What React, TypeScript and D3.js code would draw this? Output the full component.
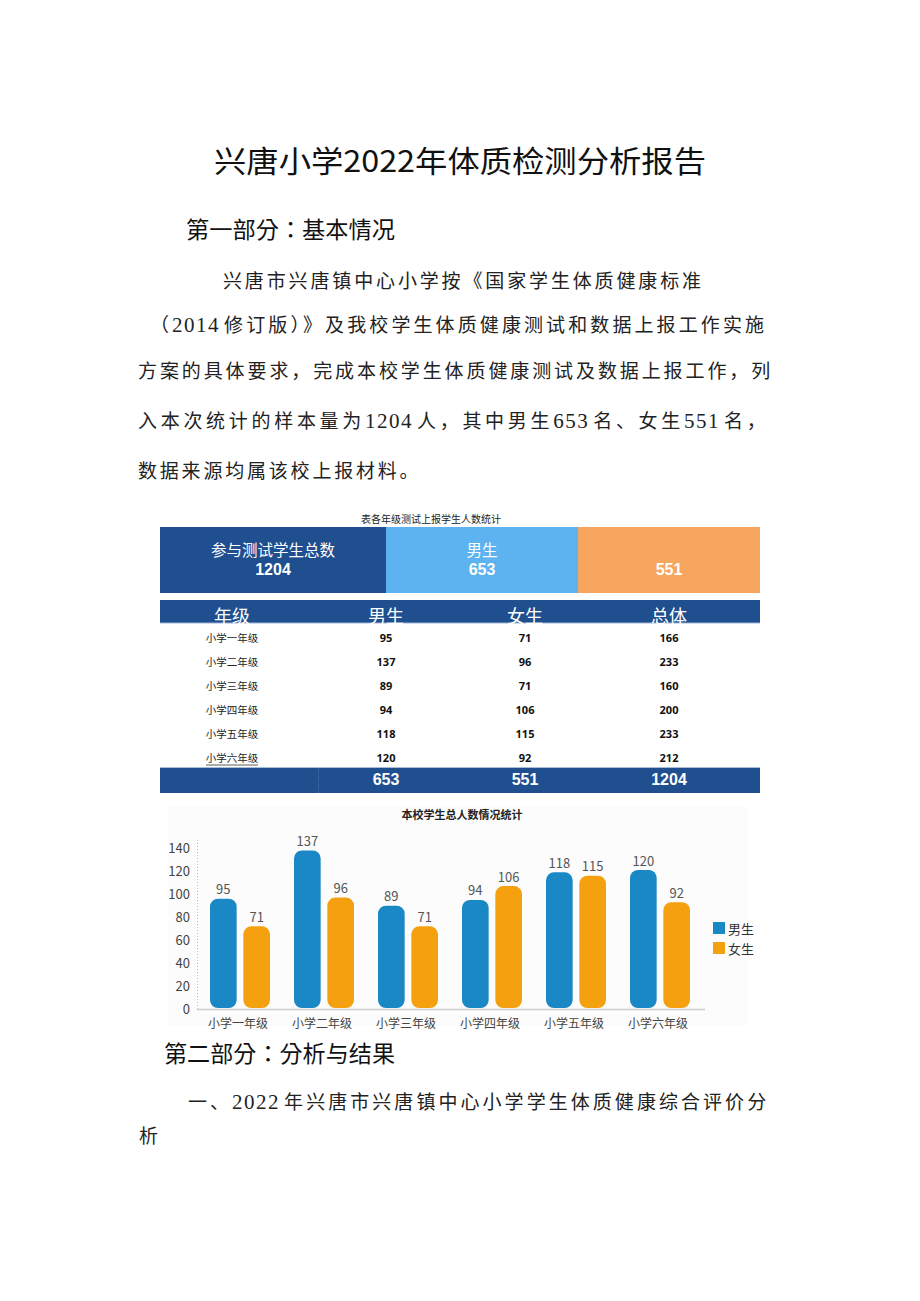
import React from 'react';
import * as d3 from 'd3';

const grades = ['小学一年级', '小学二年级', '小学三年级', '小学四年级', '小学五年级', '小学六年级'];
const boys = [95, 137, 89, 94, 118, 120];
const girls = [71, 96, 71, 106, 115, 92];
const totals = [166, 233, 160, 200, 233, 212];
const summaryLabels = ['参与测试学生总数', '男生', ''];
const summaryValues = [1204, 653, 551];
const tableHeaders = ['年级', '男生', '女生', '总体'];
const footerValues = ['', '653', '551', '1204'];
const yTicks = [0, 20, 40, 60, 80, 100, 120, 140];
const seriesNames = ['男生', '女生'];

const docTitle = '兴唐小学2022年体质检测分析报告';
const heading1 = '第一部分：基本情况';
const heading2 = '第二部分：分析与结果';
const bodyLines = [
  '兴唐市兴唐镇中心小学按《国家学生体质健康标准',
  '（2014修订版）》及我校学生体质健康测试和数据上报工作实施',
  '方案的具体要求，完成本校学生体质健康测试及数据上报工作，列',
  '入本次统计的样本量为1204人，其中男生653名、女生551名，',
  '数据来源均属该校上报材料。',
];
const bodyLines2 = ['一、2022年兴唐市兴唐镇中心小学学生体质健康综合评价分', '析'];
const tableCaption = '表各年级测试上报学生人数统计';
const chartTitle = '本校学生总人数情况统计';

const CJK = "'Noto Sans CJK SC', 'Noto Sans', sans-serif";
const CJK_TC = "'Noto Sans CJK TC', 'Noto Sans CJK SC', sans-serif";
const BODY = "'Liberation Serif', 'Noto Sans CJK SC', serif";

const DARK = '#1f4f8f';
const LIGHT = '#5cb3ef';
const ORANGE = '#f7a660';
const BOY = '#1b88c6';
const GIRL = '#f5a00e';

function BodyLine({ text, x, y, ls }: { text: string; x: number; y: number; ls: number }) {
  const parts = text.split(/(\d+)/).filter((p) => p.length > 0);
  let prevDigit = false;
  return (
    <text x={x} y={y} fontFamily={BODY} fontSize={19} dominantBaseline="central" fill="#222">
      {parts.map((p, i) => {
        const isDigit = /^\d+$/.test(p);
        const dx = !isDigit && prevDigit ? 4 : 0;
        prevDigit = isDigit;
        return (
          <tspan
            key={i}
            dx={dx}
            fontSize={isDigit ? 21 : 19}
            style={{ letterSpacing: `${isDigit ? 1.5 : ls}px` }}
          >
            {p}
          </tspan>
        );
      })}
    </text>
  );
}

export default function App() {
  const bodyLayout = [
    { x: 223, y: 281, ls: 2.86 },
    { x: 150, y: 325, ls: 3.1 },
    { x: 138, y: 371, ls: 2.9 },
    { x: 138, y: 421, ls: 3.7 },
    { x: 138, y: 471, ls: 2.8 },
  ];
  const body2Layout = [
    { x: 188, y: 1102, ls: 3.05 },
    { x: 139, y: 1136, ls: 3 },
  ];

  const bannerX = [160, 386, 578, 760];
  const bannerColors = [DARK, LIGHT, ORANGE];

  const colX = [232, 386, 525, 669];
  const rowY = d3.scalePoint<string>().domain(grades).range([637, 757]);

  const x0 = d3.scaleBand<string>().domain(grades).range([196, 700]);
  const x1 = d3.scaleBand<string>().domain(seriesNames).range([14, 74]).paddingInner(0.2);
  const y = d3.scaleLinear().domain([0, 140]).range([1008, 847]);
  const series = [boys, girls];
  const colors = [BOY, GIRL];

  return (
    <svg
      width={920}
      height={1301}
      style={{ position: 'absolute', left: 0, top: 0, background: '#fff' }}
    >
      <rect x={0} y={0} width={920} height={1301} fill="#fff" />
      <text x={214} y={159} fontFamily={CJK} fontSize={30} dominantBaseline="central" textLength={492} lengthAdjust="spacingAndGlyphs" fill="#111">
        {docTitle}
      </text>
      <text x={186} y={228} fontFamily={CJK_TC} fontSize={23} dominantBaseline="central" textLength={209} lengthAdjust="spacingAndGlyphs" fill="#111">
        {heading1}
      </text>
      {bodyLines.map((l, i) => (
        <BodyLine key={i} text={l} x={bodyLayout[i].x} y={bodyLayout[i].y} ls={bodyLayout[i].ls} />
      ))}

      <text x={431} y={518} fontFamily={CJK} fontSize={10} textAnchor="middle" dominantBaseline="central" fill="#222">
        {tableCaption}
      </text>
      {bannerColors.map((c, i) => (
        <rect key={i} x={bannerX[i]} y={527} width={bannerX[i + 1] - bannerX[i]} height={66} fill={c} />
      ))}
      {summaryLabels.map((l, i) => {
        const cx = (bannerX[i] + bannerX[i + 1]) / 2;
        return (
          <g key={i}>
            {l && (
              <text x={cx} y={549} fontFamily={CJK} fontSize={15.5} textAnchor="middle" dominantBaseline="central" fill="#fff">
                {l}
              </text>
            )}
            <text x={cx} y={569} fontFamily={"'Liberation Sans', Arial, sans-serif"} fontWeight="bold" fontSize={16} textAnchor="middle" dominantBaseline="central" fill="#fff">
              {summaryValues[i]}
            </text>
          </g>
        );
      })}

      <rect x={160} y={600} width={600} height={23} fill={DARK} />
      <line x1={160} x2={760} y1={623} y2={623} stroke="#9fb4d4" strokeWidth={1} />
      {tableHeaders.map((h, i) => (
        <text key={i} x={colX[i]} y={615} fontFamily={CJK} fontSize={18} textAnchor="middle" dominantBaseline="central" fill="#fff">
          {h}
        </text>
      ))}
      {grades.map((g, i) => {
        const ry = rowY(g)!;
        return (
          <g key={g}>
            <text x={colX[0]} y={ry} fontFamily={CJK} fontSize={10.5} textAnchor="middle" dominantBaseline="central" fill="#222">
              {g}
            </text>
            {[boys[i], girls[i], totals[i]].map((v, j) => (
              <text key={j} x={colX[j + 1]} y={ry} fontFamily={"'Open Sans', 'Noto Sans', sans-serif"} fontWeight="bold" fontSize={11} textAnchor="middle" dominantBaseline="central" fill="#111">
                {v}
              </text>
            ))}
          </g>
        );
      })}
      <line x1={206} x2={258} y1={765} y2={765} stroke="#333" strokeWidth={0.8} />
      <rect x={160} y={767} width={600} height={26} fill={DARK} />
      <line x1={160} x2={760} y1={767.5} y2={767.5} stroke="#a8bcd8" strokeWidth={1} />
      <line x1={318.5} x2={318.5} y1={768} y2={793} stroke="#4d74a8" strokeWidth={1} strokeDasharray="1 1" />
      {footerValues.map((v, i) =>
        v ? (
          <text key={i} x={colX[i]} y={779} fontFamily={"'Liberation Sans', Arial, sans-serif"} fontWeight="bold" fontSize={16} textAnchor="middle" dominantBaseline="central" fill="#fff">
            {v}
          </text>
        ) : null
      )}

      <rect x={168} y={806} width={580} height={220} fill="#fcfcfc" />
      <text x={462} y={814} fontFamily={CJK} fontWeight="bold" fontSize={11} textAnchor="middle" dominantBaseline="central" fill="#222">
        {chartTitle}
      </text>
      <line x1={197.5} x2={197.5} y1={840} y2={1009} stroke="#bbb" strokeDasharray="1 2" />
      <line x1={197} x2={705} y1={1009.5} y2={1009.5} stroke="#ccc" strokeWidth={1.5} />
      {yTicks.map((t) => (
        <text key={t} x={190} y={y(t)} fontFamily={CJK} fontSize={13} textAnchor="end" dominantBaseline="central" fill="#444">
          {t}
        </text>
      ))}
      {grades.map((g, gi) => (
        <g key={g} transform={`translate(${x0(g)},0)`}>
          {series.map((s, si) => (
            <g key={si}>
              <rect
                x={x1(seriesNames[si])}
                y={y(s[gi])}
                width={x1.bandwidth()}
                height={y(0) - y(s[gi])}
                rx={8}
                fill={colors[si]}
              />
              <text
                x={x1(seriesNames[si])! + x1.bandwidth() / 2}
                y={y(s[gi]) - 10}
                fontFamily={CJK}
                fontSize={13}
                textAnchor="middle"
                dominantBaseline="central"
                fill="#555"
              >
                {s[gi]}
              </text>
            </g>
          ))}
          <text x={x0.bandwidth() / 2} y={1022} fontFamily={CJK} fontSize={12} textAnchor="middle" dominantBaseline="central" fill="#444">
            {g}
          </text>
        </g>
      ))}
      {seriesNames.map((n, i) => (
        <g key={n} transform={`translate(713,${922 + i * 20})`}>
          <rect x={0} y={0} width={12} height={12} fill={colors[i]} />
          <text x={15} y={6} fontFamily={CJK} fontSize={13} dominantBaseline="central" fill="#333">
            {n}
          </text>
        </g>
      ))}

      <text x={164} y={1052} fontFamily={CJK_TC} fontSize={23} dominantBaseline="central" textLength={231} lengthAdjust="spacingAndGlyphs" fill="#111">
        {heading2}
      </text>
      {bodyLines2.map((l, i) => (
        <BodyLine key={i} text={l} x={body2Layout[i].x} y={body2Layout[i].y} ls={body2Layout[i].ls} />
      ))}
    </svg>
  );
}
